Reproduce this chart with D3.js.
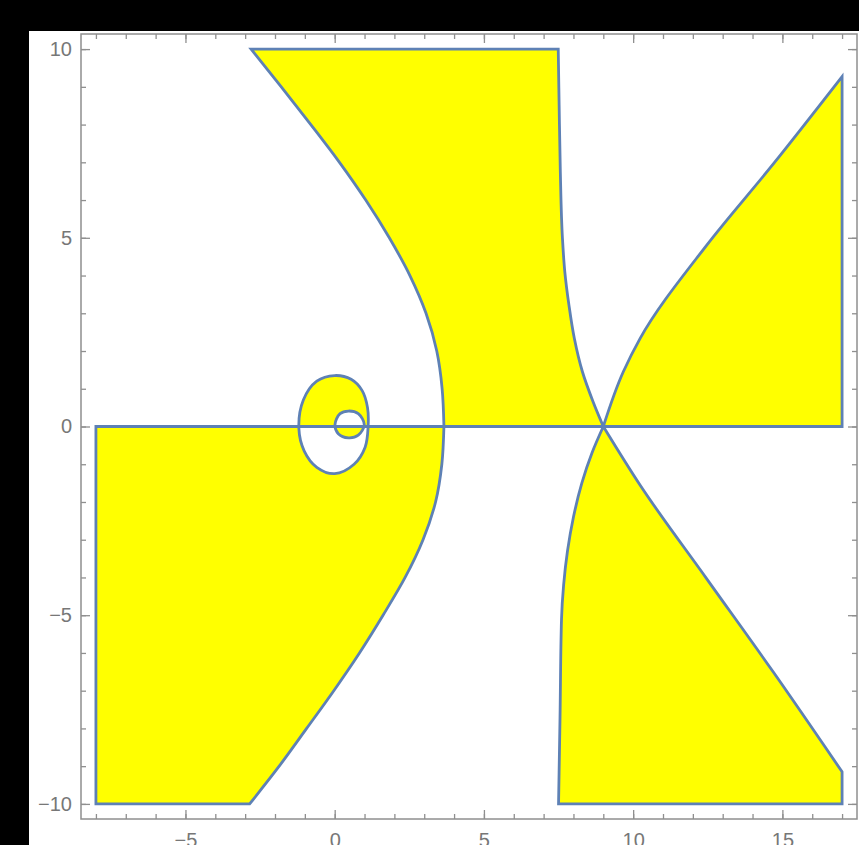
<!DOCTYPE html>
<head>
<meta charset="utf-8">
<script src="https://d3js.org/d3.v7.min.js"></script>
<style>
  body { margin: 0; background: #000; }
  svg { display: block; }
  .axis text { font-family: 'Liberation Sans', Arial, sans-serif; font-size: 20px; fill: #777; }
  .axis line { stroke: #8f8f8f; stroke-width: 1.3px; }
  .axis path { display: none; }
  .frame { fill: none; stroke: #8f8f8f; stroke-width: 1.5px; }
  .region { fill: #ffff00; stroke: #5e81b5; stroke-width: 2.8px; stroke-linejoin: miter; }
</style>
</head>
<body>
<svg width="859" height="845"></svg>
<script>

// ticks
var xMajorTicks = [-5, 0, 5, 10, 15];
var yMajorTicks = [-10, -5, 0, 5, 10];

// boundary pieces, [x, y]
var topEdge        = [[-2.8, 10], [7.49, 10]];
var rightCurveTop  = [[7.49, 10], [7.52, 8.51], [7.56, 6.75], [7.63, 5.0], [7.71, 4.10], [7.85, 3.21], [8.03, 2.33], [8.30, 1.45], [8.66, 0.65], [9, 0]];
var axisEdgeMid    = [[9, 0], [3.66, 0]];
var leftCurveTop   = [[3.66, 0], [3.60, 1], [3.42, 2], [3.06, 3], [2.52, 4], [1.83, 5], [1.04, 6], [0.16, 7], [-0.80, 8], [-1.79, 9], [-2.8, 10]];

var diagTop        = [[9, 0], [9.67, 1.45], [10.23, 2.33], [12.46, 4.80], [14.69, 6.95], [17, 9.27]];
var rightEdgeTop   = [[17, 9.27], [17, 0], [9, 0]];

var rightCurveBot  = [[9, 0], [8.62, -0.7], [8.28, -1.5], [8.0, -2.4], [7.8, -3.3], [7.67, -4.2], [7.6, -5.1], [7.55, -7.7], [7.5, -10]];
var bottomEdgeRt   = [[7.5, -10], [17, -10], [17, -9.15]];
var diagBottom     = [[17, -9.15], [14.69, -6.50], [12.46, -4.03], [10.23, -1.55], [9, 0]];

var axisEdgeLeft   = [[-8, -10], [-8, 0], [3.66, 0]];
var leftCurveBot   = [[3.66, 0], [3.59, -1], [3.38, -2], [2.96, -3], [2.36, -4], [1.62, -5], [0.83, -6], [-0.03, -7], [-0.94, -8], [-1.86, -9], [-2.85, -10]];

var outerLoop = [[0.0, 1.35], [0.55, 1.25], [0.92, 0.95], [1.1, 0.5], [1.12, 0.0], [1.02, -0.55], [0.65, -1.0], [0.0, -1.25],
                 [-0.6, -1.08], [-1.02, -0.65], [-1.2, -0.05], [-1.05, 0.7], [-0.6, 1.2]];
var innerLoop = [[0.01, 0.05], [0.18, 0.34], [0.46, 0.41], [0.79, 0.34], [0.99, 0.05], [0.79, -0.23], [0.46, -0.30], [0.12, -0.19]];

var x = d3.scaleLinear().domain([-8.5, 17.5]).range([81, 857]);
var y = d3.scaleLinear().domain([-10.4, 10.4]).range([819, 34]);

var svg = d3.select("svg");

svg.append("rect")
    .attr("x", 29).attr("y", 31)
    .attr("width", 830).attr("height", 814)
    .attr("fill", "#fff");

function piece(pts, smooth) {
  return d3.line()
      .x(function(d) { return x(d[0]); })
      .y(function(d) { return y(d[1]); })
      .curve(smooth ? d3.curveMonotoneY : d3.curveLinear)(pts);
}

function region(pieces) {
  return pieces.map(function(p, i) {
    var s = piece(p[0], p[1]);
    return i ? s.replace(/^M/, "L") : s;
  }).join("") + "Z";
}

function loop(pts) {
  return d3.line()
      .x(function(d) { return x(d[0]); })
      .y(function(d) { return y(d[1]); })
      .curve(d3.curveCatmullRomClosed.alpha(0.5))(pts);
}

var regions = [
  region([[topEdge, false], [rightCurveTop, true], [axisEdgeMid, false], [leftCurveTop, true]]),
  region([[diagTop, true], [rightEdgeTop, false]]),
  region([[rightCurveBot, true], [bottomEdgeRt, false], [diagBottom, true]]),
  region([[axisEdgeLeft, false], [leftCurveBot, true]]) + loop(outerLoop) + loop(innerLoop)
];

svg.selectAll(".region")
    .data(regions)
    .enter().append("path")
    .attr("class", "region")
    .attr("fill-rule", "evenodd")
    .attr("d", function(d) { return d; });

// frame + ticks
svg.append("rect")
    .attr("class", "frame")
    .attr("x", 81).attr("y", 34)
    .attr("width", 776).attr("height", 785);

function addAxis(axis, tx, ty) {
  svg.append("g")
      .attr("class", "axis")
      .attr("transform", "translate(" + tx + "," + ty + ")")
      .call(axis);
}

var fmt = function(d) { return d < 0 ? "\u2212" + Math.abs(d) : d; };

addAxis(d3.axisLeft(y).tickValues(d3.range(-10, 11)).tickSize(-5).tickFormat(""), 81, 0);
addAxis(d3.axisLeft(y).tickValues(yMajorTicks).tickSize(-9).tickPadding(9).tickFormat(fmt), 81, 0);
addAxis(d3.axisRight(y).tickValues(d3.range(-10, 11)).tickSize(-5).tickFormat(""), 857, 0);
addAxis(d3.axisRight(y).tickValues(yMajorTicks).tickSize(-9).tickFormat(""), 857, 0);

addAxis(d3.axisBottom(x).tickValues(d3.range(-8, 18)).tickSize(-5).tickFormat(""), 0, 819);
addAxis(d3.axisBottom(x).tickValues(xMajorTicks).tickSize(-9).tickPadding(14).tickFormat(fmt), 0, 819);
addAxis(d3.axisTop(x).tickValues(d3.range(-8, 18)).tickSize(-5).tickFormat(""), 0, 34);
addAxis(d3.axisTop(x).tickValues(xMajorTicks).tickSize(-9).tickFormat(""), 0, 34);

</script>
</body>
